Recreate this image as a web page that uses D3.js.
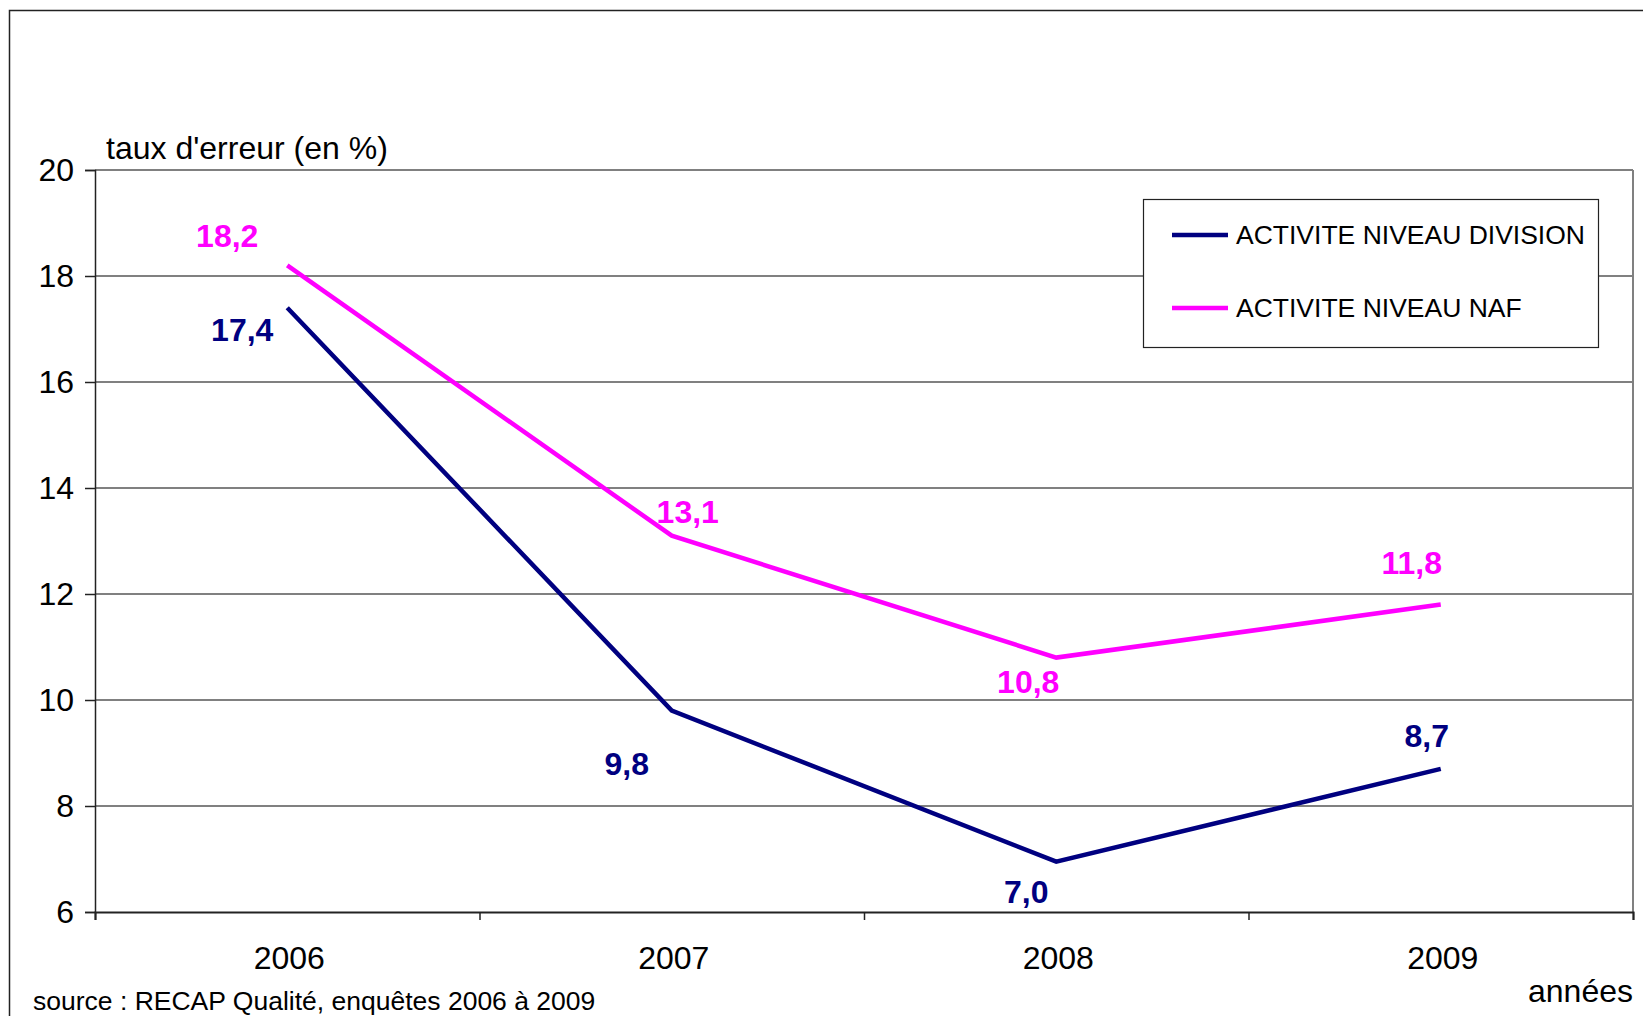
<!DOCTYPE html>
<html>
<head>
<meta charset="utf-8">
<script src="https://cdn.jsdelivr.net/npm/d3@7"></script>
<style>
	body { margin: 0; background: #fff; }
	svg { display: block; font-family: Arial, "Liberation Sans", sans-serif; }
</style>
</head>
<body>
<script>
const years = ["2006", "2007", "2008", "2009"];
const division = [17.4, 9.8, 6.95, 8.7];
const naf = [18.2, 13.1, 10.8, 11.8];
const divisionLabels = ["17,4", "9,8", "7,0", "8,7"];
const nafLabels = ["18,2", "13,1", "10,8", "11,8"];
const yTicks = [6, 8, 10, 12, 14, 16, 18, 20];
const seriesNames = ["ACTIVITE NIVEAU DIVISION", "ACTIVITE NIVEAU NAF"];

const w = 1643;
const h = 1016;
const plotLeft = 95;
const plotRight = 1633;
const plotTop = 170;
const plotBottom = 912;
const navy = "#000080";
const pink = "#ff00ff";

// label offsets from the point, excel style placement
const divisionOffsets = [[-45, 22], [-45, 53], [-30, 30], [-14, -33]];
const nafOffsets = [[-60, -30], [16, -24], [-28, 24], [-29, -42]];

const svg = d3.select("body").append("svg").attr("width", w).attr("height", h);

// * OUTER FRAME
svg.append("rect")
	.attr("x", 9.5)
	.attr("y", 10.5)
	.attr("width", 1700)
	.attr("height", 1100)
	.attr("fill", "#fff")
	.attr("stroke", "#222")
	.attr("stroke-width", 1.5);

// * SCALES
const xScale = d3.scaleBand().domain(years).range([plotLeft, plotRight]);
const yScale = d3.scaleLinear().domain([6, 20]).range([plotBottom, plotTop]);
const xc = (d) => xScale(d) + xScale.bandwidth() / 2;

// * GRID
svg.append("g")
	.selectAll("line")
	.data(yTicks.filter((d) => d > 6))
	.enter()
	.append("line")
	.attr("x1", plotLeft)
	.attr("x2", plotRight)
	.attr("y1", (d) => yScale(d))
	.attr("y2", (d) => yScale(d))
	.attr("stroke", "#808080")
	.attr("stroke-width", 2);

svg.append("line")
	.attr("x1", plotRight)
	.attr("x2", plotRight)
	.attr("y1", plotTop)
	.attr("y2", plotBottom)
	.attr("stroke", "#808080")
	.attr("stroke-width", 2);

// * Y AXIS
const yAxis = d3.axisLeft(yScale).tickValues(yTicks).tickSize(10).tickPadding(11);
const gy = svg.append("g").attr("transform", `translate(${plotLeft},0)`).call(yAxis);
gy.select(".domain").attr("stroke", "#222").attr("stroke-width", 1.5);
gy.selectAll(".tick line").attr("stroke", "#222").attr("stroke-width", 1.5);
gy.selectAll("text").attr("font-size", 32).attr("fill", "#000");
gy.attr("font-family", null);

// * X AXIS
const xAxis = d3
	.axisBottom(d3.scaleLinear().domain([0, 4]).range([plotLeft, plotRight]))
	.tickValues([0, 1, 2, 3, 4])
	.tickSize(8)
	.tickFormat("");
const gx = svg.append("g").attr("transform", `translate(0,${plotBottom})`).call(xAxis);
gx.select(".domain").attr("stroke", "#222").attr("stroke-width", 2);
gx.selectAll(".tick line").attr("stroke", "#222").attr("stroke-width", 1.5);

svg.append("g")
	.selectAll("text")
	.data(years)
	.enter()
	.append("text")
	.attr("x", (d) => xc(d) + 2)
	.attr("y", 969)
	.attr("text-anchor", "middle")
	.attr("font-size", 32)
	.text((d) => d);

// * AXIS TITLES
svg.append("text").attr("x", 106).attr("y", 159).attr("font-size", 32).text("taux d'erreur (en %)");
svg.append("text").attr("x", plotRight).attr("y", 1002).attr("text-anchor", "end").attr("font-size", 32).text("années");
svg.append("text").attr("x", 33).attr("y", 1010).attr("font-size", 26.5).text("source : RECAP Qualité, enquêtes 2006 à 2009");

// * LINES
const line = d3
	.line()
	.x((d, i) => xc(years[i]))
	.y((d) => yScale(d));

svg.append("path")
	.attr("d", line(division))
	.attr("fill", "none")
	.attr("stroke", navy)
	.attr("stroke-width", 4.5);

svg.append("path")
	.attr("d", line(naf))
	.attr("fill", "none")
	.attr("stroke", pink)
	.attr("stroke-width", 4.5);

// * DATA LABELS
function labels(values, texts, offsets, color) {
	svg.append("g")
		.selectAll("text")
		.data(values)
		.enter()
		.append("text")
		.attr("x", (d, i) => xc(years[i]) + offsets[i][0])
		.attr("y", (d, i) => yScale(d) + offsets[i][1])
		.attr("dy", "0.35em")
		.attr("text-anchor", "middle")
		.attr("font-size", 32)
		.attr("font-weight", "bold")
		.attr("fill", color)
		.text((d, i) => texts[i]);
}
labels(division, divisionLabels, divisionOffsets, navy);
labels(naf, nafLabels, nafOffsets, pink);

// * LEGEND
const legend = svg.append("g");
legend.append("rect")
	.attr("x", 1143.5)
	.attr("y", 199.5)
	.attr("width", 455)
	.attr("height", 148)
	.attr("fill", "#fff")
	.attr("stroke", "#222")
	.attr("stroke-width", 1.2);

const legendY = d3.scalePoint().domain(seriesNames).range([235, 308]);
const legendColors = [navy, pink];
seriesNames.forEach((name, i) => {
	legend.append("line")
		.attr("x1", 1172)
		.attr("x2", 1228)
		.attr("y1", legendY(name))
		.attr("y2", legendY(name))
		.attr("stroke", legendColors[i])
		.attr("stroke-width", 4.5);
	legend.append("text")
		.attr("x", 1236)
		.attr("y", legendY(name))
		.attr("dy", "0.35em")
		.attr("font-size", 26.5)
		.text(name);
});
</script>
</body>
</html>
